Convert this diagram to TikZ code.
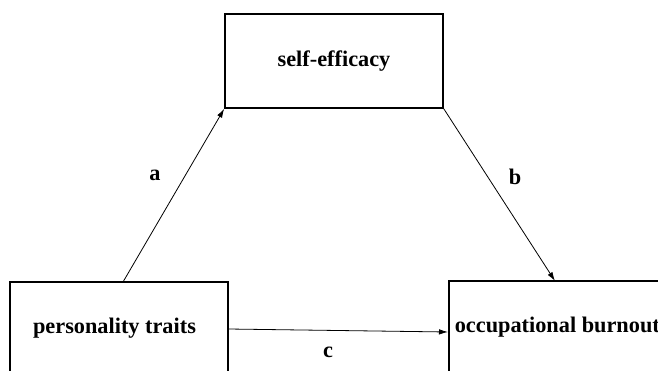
\documentclass[tikz,border=0pt]{standalone}
\usepackage{fontspec}
\setmainfont{Liberation Serif}
\usetikzlibrary{arrows.meta}
\begin{document}
\begin{tikzpicture}[x=1pt,y=-1pt,
  boxnode/.style={draw=black,line width=1.6pt,rectangle,inner sep=0pt,
    font=\fontsize{22.3}{26}\selectfont\bfseries},
  pathlabel/.style={font=\fontsize{22.3}{26}\selectfont\bfseries,inner sep=0pt},
  link/.style={line width=0.8pt,-{Latex[length=9pt,width=5.5pt]}}]
\useasboundingbox (0,0) rectangle (658,371);
\clip (0,0) rectangle (658,371);
\fill[white] (0,0) rectangle (658,371);
\node[boxnode,minimum width=218pt,minimum height=94pt] (S) at (334,61) {self-efficacy};
\node[boxnode,minimum width=218pt,minimum height=92pt] (P) at (119,328) {\hspace*{-9pt}personality traits};
\node[boxnode,minimum width=216pt,minimum height=92pt,anchor=west] (B) at (448,327) {\hspace*{6pt}occupational burnout\hspace*{7pt}};
\coordinate (Pa) at (123,282);
\coordinate (Bb) at (555,281);
\coordinate (Pc) at (228,329);
\coordinate (Bc) at (448,332);
\draw[link] (Pa) -- (S.south west);
\draw[link] (S.south east) -- (Bb);
\draw[link] (Pc) -- (Bc);
\node[pathlabel] (la) at (155,175) {a};
\node[pathlabel] (lb) at (515,177) {b};
\node[pathlabel] (lc) at (328,352) {c};
\end{tikzpicture}
\end{document}
